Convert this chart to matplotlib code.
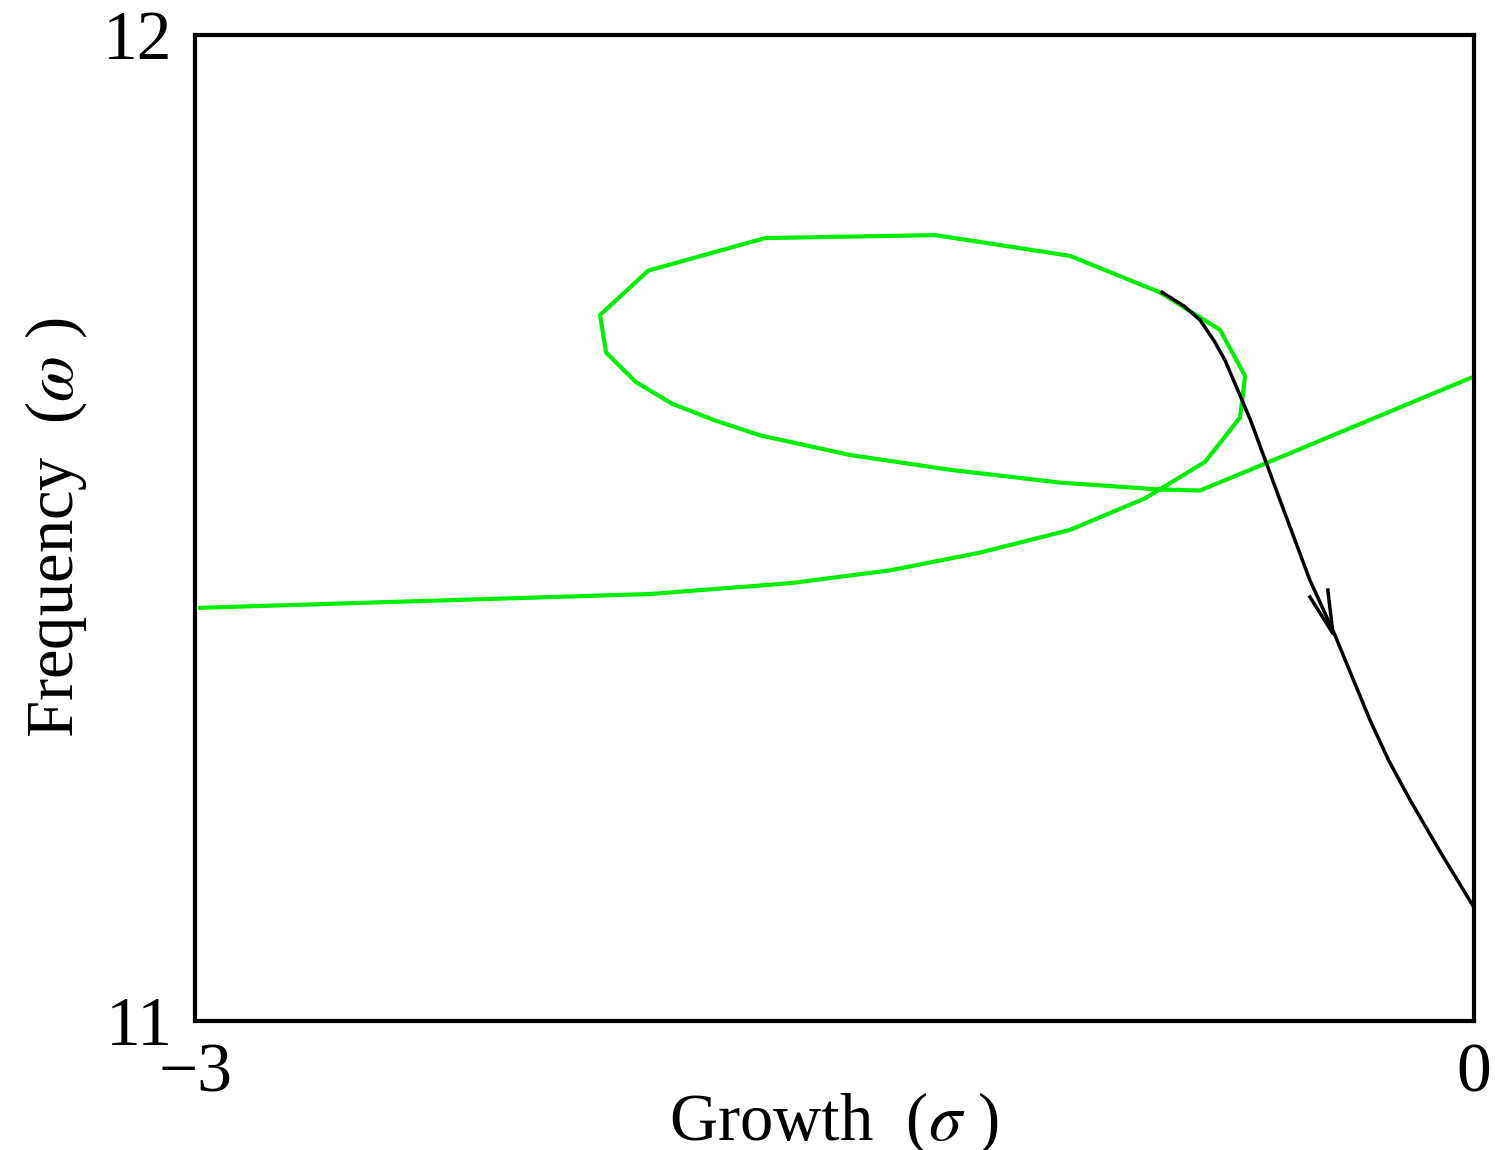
import matplotlib
matplotlib.use("Agg")
import matplotlib.pyplot as plt

plt.rcParams['font.family'] = ['Liberation Serif', 'DejaVu Serif']
plt.rcParams['mathtext.fontset'] = 'stix'

# Green locus (growth, frequency)
green_x = [-2.988, -1.933, -1.604, -1.370, -1.159, -0.948, -0.772, -0.631, -0.549, -0.537,
           -0.596, -0.737, -0.948, -1.264, -1.663, -1.937, -2.050, -2.036, -1.966, -1.881,
           -1.780, -1.675, -1.464, -1.229, -0.971, -0.737, -0.643, -0.525, -0.009]
green_y = [11.419, 11.433, 11.444, 11.457, 11.475, 11.498, 11.530, 11.567, 11.612, 11.654,
           11.701, 11.739, 11.776, 11.797, 11.794, 11.761, 11.716, 11.678, 11.648, 11.626,
           11.609, 11.594, 11.574, 11.559, 11.546, 11.539, 11.538, 11.559, 11.652]

# Black trajectory
black_x = [-0.732, -0.680, -0.643, -0.610, -0.584, -0.525, -0.455, -0.385, -0.326,
           -0.285, -0.244, -0.200, -0.150, -0.080, 0.0]
black_y = [11.739, 11.725, 11.711, 11.690, 11.670, 11.610, 11.528, 11.447, 11.391,
           11.348, 11.305, 11.264, 11.224, 11.172, 11.115]

# Arrowhead: left arm, tip, right arm
arrow_x = [-0.385, -0.331, -0.343]
arrow_y = [11.430, 11.393, 11.437]

fig = plt.figure(figsize=(15.06, 11.5), dpi=100)
ax = fig.add_axes([0.1295, 0.1122, 0.8493, 0.8574])

ax.plot(green_x, green_y, color='#00ee00', lw=3)
ax.plot(black_x, black_y, color='black', lw=2.5)
ax.plot(arrow_x, arrow_y, color='black', lw=2.5)

ax.set_xlim(-3, 0)
ax.set_ylim(11, 12)
ax.set_xticks([-3, 0])
ax.set_xticklabels(['\u22123', '0'])
ax.set_yticks([11, 12])
ax.tick_params(length=0, labelsize=50, pad=16)
for s in ax.spines.values():
    s.set_linewidth(3)

ax.set_xlabel(r'Growth  ($\sigma$ )', fontsize=48, labelpad=-12)
ax.set_ylabel(r'Frequency  ($\omega$ )', fontsize=48, labelpad=10)

fig.savefig('out.png')
